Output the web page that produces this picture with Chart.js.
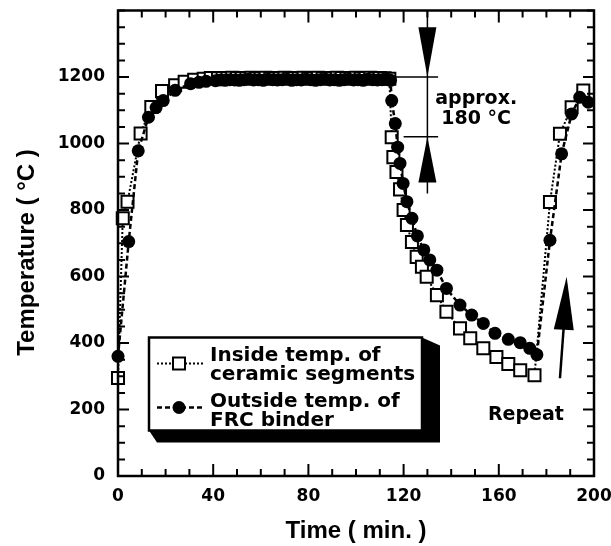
<!DOCTYPE html>
<html lang="en">
<head>
    <meta charset="utf-8" />
    <title>Temperature cycle</title>
    <style>
        body { margin: 0; background: #fff; }
        #wrap { width: 611px; height: 546px; }
    </style>
</head>
<body>
<div id="wrap"><canvas id="myChart" width="611" height="546"></canvas></div>

<script src="https://cdn.jsdelivr.net/npm/chart.js@4.4.0/dist/chart.umd.min.js"></script>
<script>
    // time (min) and temperature (°C)
    var insideTime = [0, 2, 4, 9.5, 14, 18.5, 24, 28, 32, 36, 39,
        42, 44, 46, 48, 50, 52, 54, 56, 58, 60, 62, 64, 66, 68, 70, 72, 74, 76, 78,
        80, 82, 84, 86, 88, 90, 92, 94, 96, 98, 100, 102, 104, 106, 108, 110, 112,
        114, 115, 115.7, 117, 118.5, 120, 121.4, 123.5, 125.5, 127.7, 129.7, 134, 138,
        143.7, 148, 153.5, 159, 164, 169, 175, 181.5, 185.7, 190.6, 195.5];
    var insideTemp = [295, 775, 825, 1030, 1110, 1158, 1175, 1186, 1192, 1195, 1197,
        1196, 1197, 1196, 1198, 1197, 1196, 1197, 1198, 1196, 1197, 1198, 1196, 1197, 1196, 1198, 1197, 1196, 1197, 1198,
        1196, 1197, 1198, 1196, 1197, 1196, 1198, 1197, 1196, 1197, 1198, 1196, 1197, 1198, 1196, 1197, 1196,
        1195, 1019, 959, 914, 862, 800, 755, 704, 659, 629, 599, 544, 494,
        444, 414, 384, 358, 337, 318, 303, 824, 1029, 1109, 1159];

    var outsideTime = [0, 4.5, 8.5, 12.8, 16, 19, 24, 30.5, 34, 37,
        41, 43, 45, 47, 49, 51, 53, 55, 57, 59, 61, 63, 65, 67, 69, 71, 73, 75, 77, 79,
        81, 83, 85, 87, 89, 91, 93, 95, 97, 99, 101, 103, 105, 107, 109, 111, 113,
        114.5, 115, 116.5, 117.5, 118.5, 119.8, 121.4, 123.5, 125.8, 128.5, 131, 134, 138,
        143.7, 148.6, 153.5, 158.4, 164, 169, 173, 176, 181.5, 186.4, 190.6, 194, 197.6];
    var outsideTemp = [360, 705, 978, 1079, 1108, 1129, 1160, 1180, 1184, 1187,
        1189, 1191, 1190, 1192, 1191, 1190, 1192, 1193, 1191, 1192, 1190, 1193, 1192, 1191, 1192, 1193, 1190, 1192, 1191, 1193,
        1192, 1190, 1192, 1193, 1191, 1192, 1190, 1192, 1193, 1191, 1192, 1190, 1193, 1192, 1191, 1192, 1193,
        1190, 1129, 1060, 989, 940, 880, 825, 775, 722, 680, 650, 619, 564,
        514, 484, 459, 429, 411, 401, 384, 365, 709, 969, 1089, 1139, 1124];

    var xTickLabels = [0, 40, 80, 120, 160, 200];
    var yTickLabels = [0, 200, 400, 600, 800, 1000, 1200];
    var seriesNames = [["Inside temp. of", "ceramic segments"], ["Outside temp. of", "FRC binder"]];
    var yTitle = 'Temperature ( \u00b0C )';

    var FONT = '"DejaVu Sans", sans-serif';
    var TITLE_FONT = '"Liberation Sans", Arial, sans-serif';

    function toPoints(xs, ys) {
        return xs.map(function (x, i) { return { x: x, y: ys[i] }; });
    }

    function arrowHead(ctx, tipX, tipY, baseX, baseY, half) {
        var dx = tipX - baseX, dy = tipY - baseY;
        var len = Math.sqrt(dx * dx + dy * dy);
        var nx = -dy / len * half, ny = dx / len * half;
        ctx.beginPath();
        ctx.moveTo(tipX, tipY);
        ctx.lineTo(baseX + nx, baseY + ny);
        ctx.lineTo(baseX - nx, baseY - ny);
        ctx.closePath();
        ctx.fill();
    }

    // frame with inward ticks on all four sides, plus the rotated y title
    var framePlugin = {
        id: 'frame',
        afterDraw: function (chart) {
            var ctx = chart.ctx, a = chart.chartArea;
            var xs = chart.scales.x, ys = chart.scales.y;
            ctx.save();
            ctx.strokeStyle = '#000';
            ctx.lineWidth = 2;
            xs.ticks.forEach(function (t) {
                var px = xs.getPixelForValue(t.value);
                var len = xTickLabels.indexOf(t.value) >= 0 ? 12 : 7;
                ctx.beginPath();
                ctx.moveTo(px, a.bottom); ctx.lineTo(px, a.bottom - len);
                ctx.moveTo(px, a.top); ctx.lineTo(px, a.top + len);
                ctx.stroke();
            });
            ys.ticks.forEach(function (t) {
                var py = ys.getPixelForValue(t.value);
                var len = yTickLabels.indexOf(t.value) >= 0 ? 11 : 7;
                ctx.beginPath();
                ctx.moveTo(a.left, py); ctx.lineTo(a.left + len, py);
                ctx.moveTo(a.right, py); ctx.lineTo(a.right - len, py);
                ctx.stroke();
            });
            ctx.lineWidth = 2.5;
            ctx.strokeRect(a.left, a.top, a.right - a.left, a.bottom - a.top);

            ctx.translate(27, a.top + 242);
            ctx.rotate(-Math.PI / 2);
            ctx.fillStyle = '#000';
            ctx.font = 'bold 24px ' + TITLE_FONT;
            ctx.textAlign = 'center';
            ctx.textBaseline = 'middle';
            ctx.fillText(yTitle, 0, 0);
            ctx.restore();
        }
    };

    // "approx. 180 °C" marker and the "Repeat" arrow
    var notesPlugin = {
        id: 'notes',
        afterDatasetsDraw: function (chart) {
            var ctx = chart.ctx, xs = chart.scales.x, ys = chart.scales.y;
            var X = function (v) { return xs.getPixelForValue(v); };
            var Y = function (v) { return ys.getPixelForValue(v); };
            ctx.save();
            ctx.strokeStyle = '#000';
            ctx.fillStyle = '#000';
            ctx.lineWidth = 1.5;
            ctx.beginPath();
            ctx.moveTo(X(130), Y(1400)); ctx.lineTo(X(130), Y(850));
            ctx.moveTo(X(112), Y(1200)); ctx.lineTo(X(134.5), Y(1200));
            ctx.moveTo(X(120), Y(1020)); ctx.lineTo(X(134.5), Y(1020));
            ctx.stroke();
            arrowHead(ctx, X(130), Y(1200), X(130), Y(1350), 9);
            arrowHead(ctx, X(130), Y(1020), X(130), Y(883), 9);

            ctx.lineWidth = 2.5;
            ctx.beginPath();
            ctx.moveTo(X(185.7), Y(294)); ctx.lineTo(X(187.5), Y(470));
            ctx.stroke();
            arrowHead(ctx, X(188.5), Y(599), X(187.3), Y(440), 10);

            ctx.font = 'bold 19px ' + FONT;
            ctx.textAlign = 'center';
            ctx.textBaseline = 'middle';
            ctx.fillText('approx.', X(150.5), Y(1133));
            ctx.fillText('180 \u00b0C', X(150.5), Y(1073));
            ctx.fillText('Repeat', X(171.4), Y(183));
            ctx.restore();
        }
    };

    // boxed legend with a heavy drop shadow
    var legendPlugin = {
        id: 'boxLegend',
        afterDatasetsDraw: function (chart) {
            var ctx = chart.ctx, a = chart.chartArea;
            var L = a.left + 31, T = a.top + 327, R = a.left + 304, B = a.top + 420;
            ctx.save();
            ctx.fillStyle = '#000';
            ctx.beginPath();
            ctx.moveTo(R, T); ctx.lineTo(R + 18, T + 8); ctx.lineTo(R + 18, B + 12);
            ctx.lineTo(L + 8, B + 12); ctx.lineTo(L, B); ctx.closePath();
            ctx.fill();
            ctx.fillStyle = '#fff';
            ctx.fillRect(L, T, R - L, B - T);
            ctx.strokeStyle = '#000';
            ctx.lineWidth = 2.5;
            ctx.strokeRect(L, T, R - L, B - T);

            var rows = [T + 26, T + 70];
            var mx = L + 30;
            // inside: dotted line, open square
            ctx.lineWidth = 2;
            ctx.setLineDash([2, 2]);
            ctx.beginPath(); ctx.moveTo(L + 8, rows[0]); ctx.lineTo(L + 54, rows[0]); ctx.stroke();
            ctx.setLineDash([]);
            ctx.fillStyle = '#fff';
            ctx.fillRect(mx - 6, rows[0] - 6, 12, 12);
            ctx.strokeRect(mx - 6, rows[0] - 6, 12, 12);
            // outside: dashed line, filled circle
            ctx.lineWidth = 2.5;
            ctx.setLineDash([5, 3]);
            ctx.beginPath(); ctx.moveTo(L + 8, rows[1]); ctx.lineTo(L + 54, rows[1]); ctx.stroke();
            ctx.setLineDash([]);
            ctx.fillStyle = '#000';
            ctx.beginPath(); ctx.arc(mx, rows[1], 6.5, 0, Math.PI * 2); ctx.fill();

            ctx.font = 'bold 20px ' + FONT;
            ctx.textAlign = 'left';
            ctx.textBaseline = 'alphabetic';
            ctx.fillText(seriesNames[0][0], L + 61, T + 23);
            ctx.fillText(seriesNames[0][1], L + 61, T + 42);
            ctx.fillText(seriesNames[1][0], L + 61, T + 69);
            ctx.fillText(seriesNames[1][1], L + 61, T + 88);
            ctx.restore();
        }
    };

    var tickFont = { family: FONT, size: 17, weight: 'bold' };
    var titleFont = { family: TITLE_FONT, size: 24, weight: 'bold' };

    var ctx = document.getElementById('myChart');
    var myChart = new Chart(ctx, {
        type: 'scatter',
        data: {
            datasets: [{
                label: seriesNames[0].join(' '),
                data: toPoints(insideTime, insideTemp),
                showLine: true,
                order: 1,
                borderColor: '#000',
                borderWidth: 2,
                borderDash: [2, 2],
                pointStyle: 'rect',
                pointRadius: 8.5,
                pointBorderWidth: 2,
                pointBackgroundColor: '#fff',
                pointBorderColor: '#000',
                clip: false
            }, {
                label: seriesNames[1].join(' '),
                data: toPoints(outsideTime, outsideTemp),
                showLine: true,
                order: 0,
                borderColor: '#000',
                borderWidth: 2.5,
                borderDash: [5, 3],
                pointStyle: 'circle',
                pointRadius: 6.5,
                pointBorderWidth: 0,
                pointBackgroundColor: '#000',
                pointBorderColor: '#000',
                clip: false
            }]
        },
        options: {
            responsive: false,
            animation: false,
            devicePixelRatio: 1,
            layout: { padding: { top: 10, right: 17, bottom: 0, left: 0 } },
            plugins: {
                legend: { display: false },
                tooltip: { enabled: false }
            },
            scales: {
                x: {
                    type: 'linear',
                    min: 0,
                    max: 200,
                    border: { display: false },
                    grid: { display: false, drawTicks: false },
                    ticks: {
                        stepSize: 10,
                        autoSkip: false,
                        maxRotation: 0,
                        padding: 10,
                        color: '#000',
                        font: tickFont,
                        callback: function (v) { return xTickLabels.indexOf(v) >= 0 ? String(v) : ''; }
                    },
                    title: { display: true, text: 'Time ( min. )', color: '#000', font: titleFont, padding: { top: 0, bottom: 0 } },
                    afterFit: function (s) {
                        s.height = 70;
                        s.paddingLeft = 0;
                        s.paddingRight = 0;
                    }
                },
                y: {
                    min: 0,
                    max: 1400,
                    border: { display: false },
                    grid: { display: false, drawTicks: false },
                    ticks: {
                        stepSize: 50,
                        autoSkip: false,
                        padding: 13,
                        color: '#000',
                        font: tickFont,
                        callback: function (v) { return yTickLabels.indexOf(v) >= 0 ? String(v) : ''; }
                    },
                    title: { display: false },
                    afterFit: function (s) {
                        s.width = 118;
                        s.paddingTop = 0;
                        s.paddingBottom = 0;
                    }
                }
            }
        },
        plugins: [legendPlugin, notesPlugin, framePlugin]
    });
</script>
</body>
</html>
